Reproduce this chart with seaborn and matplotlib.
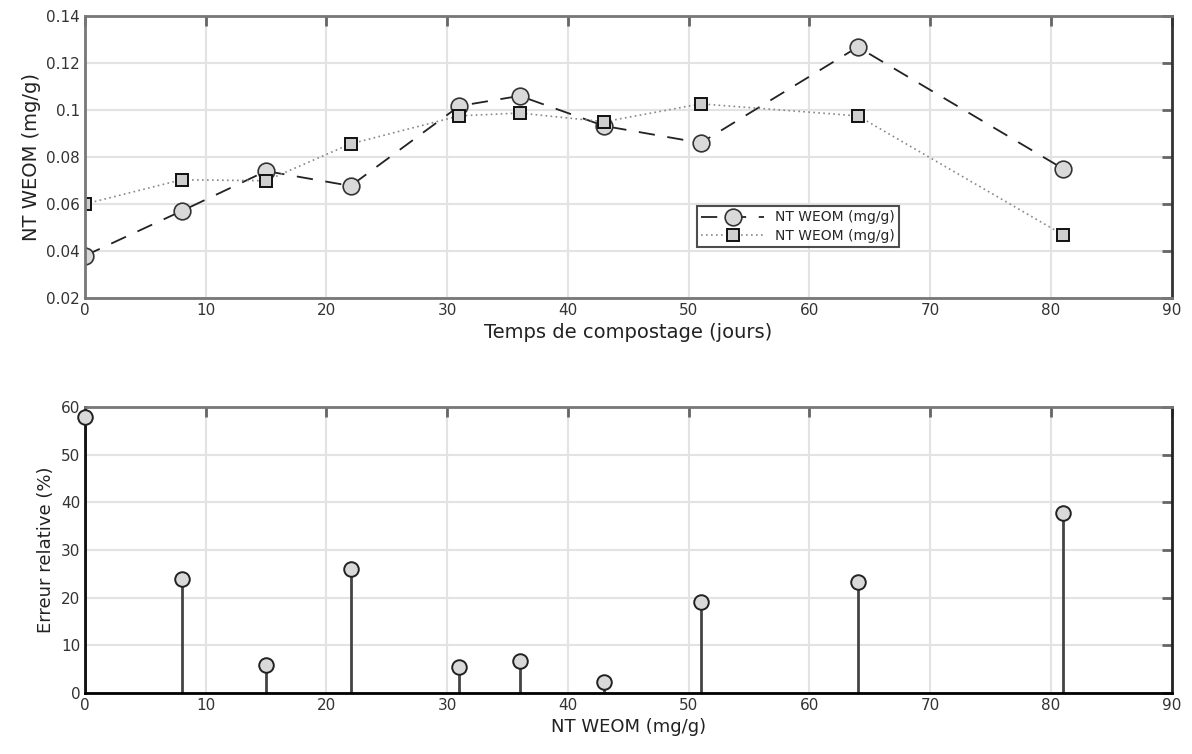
import numpy as np
import pandas as pd
import matplotlib
matplotlib.use("Agg")
import matplotlib.pyplot as plt
import seaborn as sns

# --- DATA ---
days = [0, 8, 15, 22, 31, 36, 43, 51, 64, 81]
nt_exp = [0.038, 0.057, 0.074, 0.0677, 0.1017, 0.106, 0.0932, 0.086, 0.1268, 0.075]
nt_model = [0.060, 0.0703, 0.0699, 0.0856, 0.0975, 0.0987, 0.095, 0.1026, 0.0975, 0.0469]
rel_err = [57.9, 24.0, 5.9, 26.1, 5.5, 6.7, 2.3, 19.2, 23.4, 37.7]

x_ticks = [0, 10, 20, 30, 40, 50, 60, 70, 80, 90]
y_ticks_top = [0.02, 0.04, 0.06, 0.08, 0.1, 0.12, 0.14]
y_ticks_bot = [0, 10, 20, 30, 40, 50, 60]

df = pd.DataFrame({"days": days, "exp": nt_exp, "model": nt_model, "err": rel_err})

sns.set_style("white")
plt.rcParams['font.family'] = ['DejaVu Sans']

fig = plt.figure(figsize=(11.92, 7.54), dpi=100)
ax1 = fig.add_axes([0.0713, 0.6048, 0.9117, 0.374])
ax2 = fig.add_axes([0.0713, 0.0809, 0.9117, 0.3791])

grid_c = '#e3e3e3'

# --- TOP: NT WEOM vs time ---
sns.lineplot(data=df, x="days", y="exp", ax=ax1, color='#222222', lw=1.3,
             linestyle=(0, (9, 7)), marker='o', markersize=12,
             markerfacecolor='#d9d9d9', markeredgecolor='#333333', markeredgewidth=1.2,
             label='NT WEOM (mg/g)', sort=False)
sns.lineplot(data=df, x="days", y="model", ax=ax1, color='#888888', lw=1.2,
             linestyle=(0, (1, 2)), marker='s', markersize=9,
             markerfacecolor='#cfcfcf', markeredgecolor='#111111', markeredgewidth=1.4,
             label='NT WEOM (mg/g)', sort=False)
ax1.set_xlim(0, 90)
ax1.set_ylim(0.02, 0.14)
ax1.set_xticks(x_ticks)
ax1.set_yticks(y_ticks_top)
ax1.set_yticklabels(['0.02', '0.04', '0.06', '0.08', '0.1', '0.12', '0.14'])
ax1.set_xlabel('Temps de compostage (jours)', fontsize=14, color='#222222')
ax1.set_ylabel('NT WEOM (mg/g)', fontsize=14, color='#222222')
leg = ax1.legend(loc='upper left', bbox_to_anchor=(0.557, 0.35), fontsize=10,
                 frameon=True, fancybox=False, edgecolor='#222222',
                 handlelength=4.5, borderpad=0.3, labelspacing=0.3)
leg.get_frame().set_linewidth(1.5)

# --- BOTTOM: relative error stems ---
ax2.vlines(df["days"], 0, df["err"], color='#444444', lw=2)
sns.scatterplot(data=df, x="days", y="err", ax=ax2, s=110, color='#d9d9d9',
                edgecolor='#222222', linewidth=1.4, zorder=3, clip_on=False)
ax2.set_xlim(0, 90)
ax2.set_ylim(0, 60)
ax2.set_xticks(x_ticks)
ax2.set_yticks(y_ticks_bot)
ax2.set_xlabel('NT WEOM (mg/g)', fontsize=13, color='#222222')
ax2.set_ylabel('Erreur relative (%)', fontsize=13, color='#222222')

for ax in (ax1, ax2):
    ax.grid(True, color=grid_c, lw=1.5)
    ax.set_axisbelow(True)
    ax.tick_params(direction='in', length=7, width=2, colors='#666666',
                   labelcolor='#333333', labelsize=11, top=True, right=True)
    for s in ax.spines.values():
        s.set_color('#777777')
        s.set_linewidth(2)

ax2.spines['bottom'].set_color('#000000')
ax2.spines['left'].set_color('#111111')
ax2.spines['right'].set_color('#222222')
ax1.spines['right'].set_color('#333333')

fig.savefig("out.png", dpi=100)
